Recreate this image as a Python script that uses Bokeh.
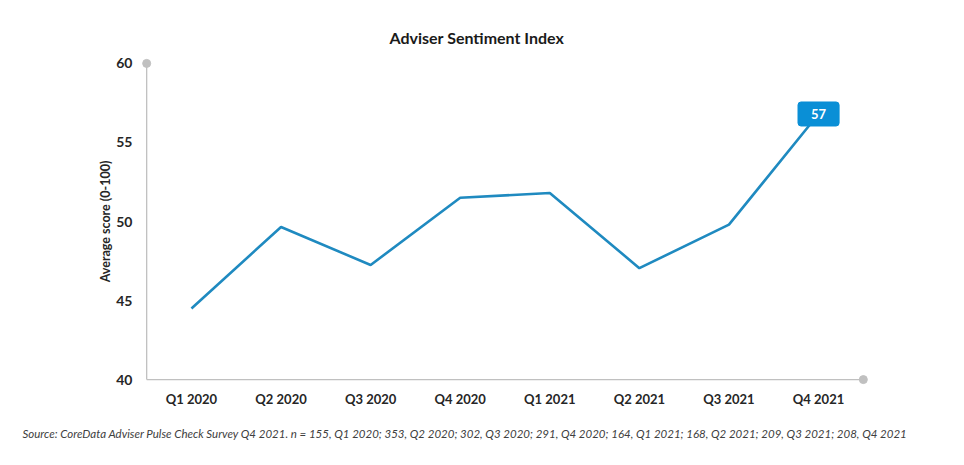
from bokeh.plotting import figure
from bokeh.models import FactorRange, Range1d, Label, FixedTicker, Title
from bokeh.embed import file_html
from bokeh.resources import INLINE

categories = ["Q1 2020", "Q2 2020", "Q3 2020", "Q4 2020", "Q1 2021", "Q2 2021", "Q3 2021", "Q4 2021"]
scores = [44.5, 49.65, 47.25, 51.5, 51.8, 47.05, 49.8, 56.8]
y_ticks = [40, 45, 50, 55, 60]
title_text = "Adviser Sentiment Index"
y_label = "Average score (0-100)"
source_text = ("Source: CoreData Adviser Pulse Check Survey Q4 2021. n = 155, Q1 2020; 353, Q2 2020; 302, Q3 2020; "
               "291, Q4 2020; 164, Q1 2021; 168, Q2 2021; 209, Q3 2021; 208, Q4 2021")

FONT = "Lato"
LINE = "#1f8ac0"
BOX = "#0a8fd6"
AXIS = "#c0c0c0"

xpad = 0.08
ypad = 0.5
p = figure(
    x_range=FactorRange(*categories, range_padding=xpad, range_padding_units="absolute"),
    y_range=Range1d(y_ticks[0] - ypad, y_ticks[-1] + ypad),
    width=948, height=454,
    min_border_left=139, min_border_right=78, min_border_top=55, min_border_bottom=66,
    output_backend="svg", toolbar_location=None,
)
p.title.text = title_text
p.title.align = "left"
p.title.offset = 250
p.title.text_font = FONT
p.title.text_font_style = "bold"
p.title.text_font_size = "16px"
p.title.text_color = "#1a1a1a"
p.title.standoff = 17

p.outline_line_color = None
p.grid.grid_line_color = None
p.background_fill_color = "white"

n = len(categories)
ymin, ymax = y_ticks[0], y_ticks[-1]
# custom axis lines with end dots
p.segment(x0=[0, 0], y0=[ymin, ymin], x1=[0, n], y1=[ymax, ymin], line_color=AXIS, line_width=1.3)
p.scatter(x=[0, n], y=[ymax, ymin], size=8, color=AXIS)

p.line(x=categories, y=scores, line_color=LINE, line_width=2.6)

for ax in (p.xaxis[0], p.yaxis[0]):
    ax.axis_line_color = None
    ax.major_tick_line_color = None
    ax.minor_tick_line_color = None
    ax.major_tick_out = 0
    ax.major_tick_in = 0
    ax.major_label_text_font = FONT
    ax.major_label_text_font_style = "bold"
    ax.major_label_text_color = "#262626"
    ax.major_label_text_font_size = "13px"

p.yaxis.ticker = FixedTicker(ticks=y_ticks)
p.yaxis.major_label_text_font_size = "14px"
p.yaxis.major_label_standoff = 7
p.yaxis.axis_label = y_label
p.yaxis.axis_label_text_font = FONT
p.yaxis.axis_label_text_font_style = "bold"
p.yaxis.axis_label_text_font_size = "12.5px"
p.yaxis.axis_label_text_color = "#262626"
p.yaxis.axis_label_standoff = 0
p.xaxis.major_label_standoff = 3

# callout on last value
p.add_layout(Label(x=n - 0.5, y=scores[-1], text=str(round(scores[-1])),
                   text_align="center", text_baseline="middle",
                   text_color="white", text_font=FONT, text_font_style="bold", text_font_size="13px",
                   background_fill_color=BOX, border_line_color=BOX, border_radius=3,
                   padding=(13, 7)))

# source note
p.add_layout(Title(text=source_text, align="left", offset=-117, standoff=30,
                   text_font=FONT, text_font_style="italic", text_font_size="11.5px",
                   text_color="#404040"), "below")

open("out.html", "w").write(file_html(p, INLINE))
